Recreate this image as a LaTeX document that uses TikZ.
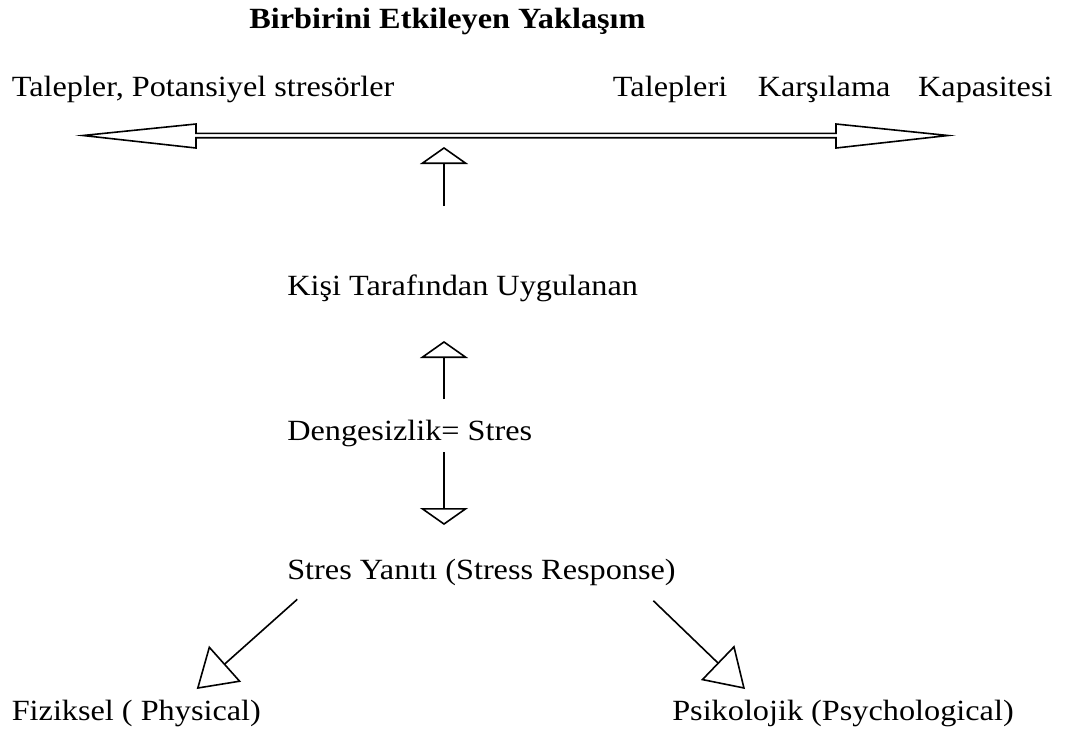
\documentclass[tikz,border=0pt]{standalone}
\usepackage{fontspec}
\setmainfont{Liberation Serif}[FakeStretch=1.1]
\usetikzlibrary{arrows.meta}
\begin{document}
\begin{tikzpicture}[x=0.75pt,y=-0.75pt,
  lbl/.style={anchor=base west,inner sep=0pt,font=\fontsize{22pt}{26pt}\selectfont},
  ttl/.style={lbl,font=\fontsize{22pt}{26pt}\selectfont\bfseries},
  ln/.style={line width=1.2pt},
  vtip/.style={ln,-{Triangle[open,length=12.75pt,width=36pt,line width=1.2pt]}},
  dtip/.style={ln,-{Triangle[open,length=28.5pt,width=36pt,line width=1.2pt]}}]
\useasboundingbox (0,0) rectangle (1069,736);

% labels
\node[ttl] (title) at (249,28) {Birbirini Etkileyen Yaklaşım};
\node[lbl] (dem) at (11.5,96.7) {Talepler, Potansiyel stresörler};
\node[lbl] (cap) at (612.7,96.7) {Talepleri\hspace{23pt}Karşılama\hspace{20.75pt}Kapasitesi};
\node[lbl] (kisi) at (287,295) {Kişi Tarafından Uygulanan};
\node[lbl] (den) at (287,440) {Dengesizlik= Stres};
\node[lbl] (resp) at (287,579) {Stres Yanıtı (Stress Response)};
\node[lbl] (fiz) at (11.5,720) {Fiziksel ( Physical)};
\node[lbl] (psi) at (672,720) {Psikolojik (Psychological)};

% balance bar: hollow two-headed block arrow
\draw[ln,line join=miter] (83,135.5) -- (196,124) -- (196,133.3) -- (836,133.3) -- (836,124)
  -- (948,135.5) -- (836,148) -- (836,137.7) -- (196,137.7) -- (196,148) -- cycle;

% arrow end points
\coordinate (a1s) at (444,206);
\coordinate (a1e) at (444,147);
\coordinate (a2s) at (444,399);
\coordinate (a2e) at (444,341);
\coordinate (a3s) at (444,452);
\coordinate (a3e) at (444,525);
\coordinate (a4s) at (297.3,599.3);
\coordinate (a4e) at (196.7,689);
\coordinate (a5s) at (653.3,600.7);
\coordinate (a5e) at (745,689);

\draw[vtip] (a1s) -- (a1e);
\draw[vtip] (a2s) -- (a2e);
\draw[vtip] (a3s) -- (a3e);
\draw[dtip] (a4s) -- (a4e);
\draw[dtip] (a5s) -- (a5e);
\end{tikzpicture}
\end{document}
